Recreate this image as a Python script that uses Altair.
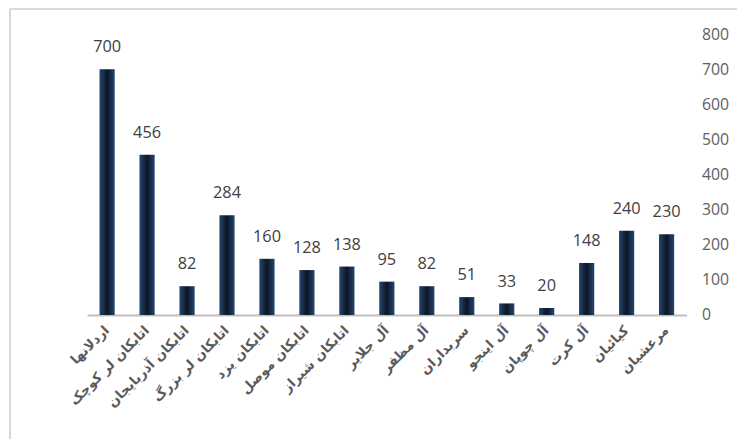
import altair as alt
import pandas as pd

categories = [
    "اردلانها", "اتابکان لر کوچک", "اتابکان آذربایجان", "اتابکان لر بزرگ",
    "اتابکان یزد", "اتابکان موصل", "اتابکان شیراز", "آل جلایر", "آل مظفر",
    "سربداران", "آل اینجو", "آل چوپان", "آل کرت", "کیائیان", "مرعشیان",
]
values = [700, 456, 82, 284, 160, 128, 138, 95, 82, 51, 33, 20, 148, 240, 230]
y_ticks = [0, 100, 200, 300, 400, 500, 600, 700, 800]

df = pd.DataFrame({"cat": categories, "val": values})

x = alt.X("cat:N", sort=categories, title=None,
          scale=alt.Scale(paddingInner=0.62, paddingOuter=0.31),
          axis=alt.Axis(labelAngle=-45, labelAlign="right", labelBaseline="middle",
                        labelFont="DejaVu Sans", labelFontWeight="bold",
                        labelFontSize=13.5, labelColor="#5a5a5a", labelPadding=13,
                        ticks=False, domainColor="#bfbfbf", domainWidth=2,
                        labelLimit=200, labelOverlap=False))
y = alt.Y("val:Q", title=None,
          scale=alt.Scale(domain=[0, 800], nice=False),
          axis=alt.Axis(orient="right", values=y_ticks, labelOverlap=False,
                        grid=False, ticks=False, domain=False,
                        labelFont="Open Sans", labelFontSize=16,
                        labelColor="#606060", labelPadding=15))

grad = alt.Gradient(
    gradient="linear", x1=0, x2=1, y1=0, y2=0,
    stops=[alt.GradientStop(color="#24466e", offset=0),
           alt.GradientStop(color="#0b1626", offset=0.5),
           alt.GradientStop(color="#24466e", offset=1)],
)

base = alt.Chart(df).encode(x=x, y=y)
bars = base.mark_bar(color=grad)
texts = base.mark_text(dy=-22, font="Open Sans", fontSize=16.5,
                       color="#404040").encode(text="val:Q")

frame_left = alt.Chart(df).mark_rule(color="#d9d9d9", strokeWidth=1.5).encode(
    x=alt.value(-78), y=alt.value(-25), y2=alt.value(420))
frame_top = alt.Chart(df).mark_rule(color="#d9d9d9", strokeWidth=1.5).encode(
    x=alt.value(-78), x2=alt.value(660), y=alt.value(-25))

chart = (bars + texts + frame_left + frame_top).properties(
    width=606, height=284,
    autosize=alt.AutoSizeParams(type="none"),
    padding={"left": 80, "top": 24, "right": 51, "bottom": 123},
).configure_view(stroke=None)

chart.save("out.html", embed_options={"renderer": "svg", "actions": False})
